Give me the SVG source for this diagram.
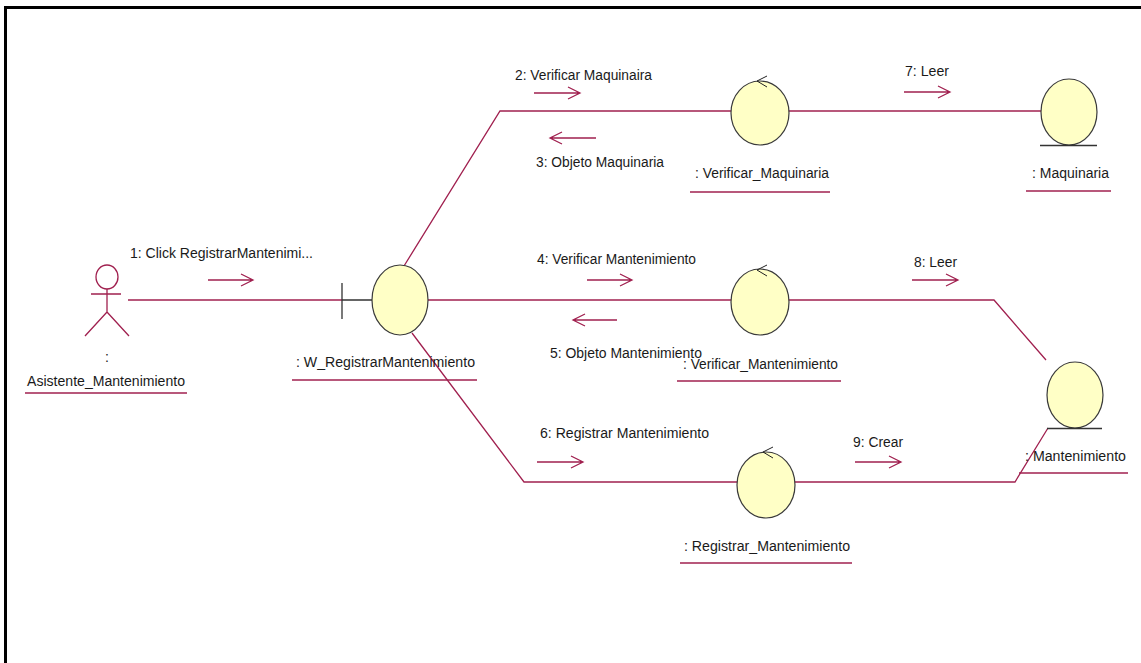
<svg xmlns="http://www.w3.org/2000/svg" width="1141" height="663" viewBox="0 0 1141 663">
<defs>
<style>
.ln{fill:none;stroke:#A0204F;stroke-width:1.3}
.ar{fill:none;stroke:#A0204F;stroke-width:1.3}
.obj{fill:#FFFFC6;stroke:#3A3A3A;stroke-width:1.2}
.ctl{fill:none;stroke:#222;stroke-width:1}
.gr{fill:none;stroke:#333;stroke-width:1.3}
.ul{stroke:#A0204F;stroke-width:1.5}
text{font-family:"Liberation Sans",Arial,sans-serif;font-size:14px;fill:#1a1a1a}
</style>
</defs>
<rect width="1141" height="663" fill="#fff"/>
<path d="M5.5,663 V7.5 H1141" fill="none" stroke="#000" stroke-width="3"/>

<g id="connectors">
<line class="ln" x1="128" y1="300" x2="342" y2="300"/>
<path class="ln" d="M404,266 L500,111 H731"/>
<line class="ln" x1="789" y1="111" x2="1041" y2="111"/>
<line class="ln" x1="428" y1="300" x2="731" y2="300"/>
<path class="ln" d="M789,300 H994 L1046,360"/>
<path class="ln" d="M412,333 L524,482 H737"/>
<path class="ln" d="M795,482 H1015 L1048,428"/>
<!-- message arrows -->
<path class="ar" d="M208,280 H253 M241,274 L253,280 L241,286"/>
<path class="ar" d="M534,93 H580 M568,87 L580,93 L568,99"/>
<path class="ar" d="M596,138 H550 M562,132 L550,138 L562,144"/>
<path class="ar" d="M904,92 H950 M938,86 L950,92 L938,98"/>
<path class="ar" d="M587,280 H632 M620,274 L632,280 L620,286"/>
<path class="ar" d="M617,320 H573 M585,314 L573,320 L585,326"/>
<path class="ar" d="M912,280 H958 M946,274 L958,280 L946,286"/>
<path class="ar" d="M537,462 H583 M571,456 L583,462 L571,468"/>
<path class="ar" d="M855,462 H901 M889,456 L901,462 L889,468"/>
<text x="130" y="258" textLength="183" lengthAdjust="spacingAndGlyphs">1: Click RegistrarMantenimi...</text>
<text x="515" y="80" textLength="137" lengthAdjust="spacingAndGlyphs">2: Verificar Maquinaira</text>
<text x="536" y="167" textLength="128" lengthAdjust="spacingAndGlyphs">3: Objeto Maquinaria</text>
<text x="905" y="76" textLength="44" lengthAdjust="spacingAndGlyphs">7: Leer</text>
<text x="537" y="264" textLength="159" lengthAdjust="spacingAndGlyphs">4: Verificar Mantenimiento</text>
<text x="550" y="358" textLength="152" lengthAdjust="spacingAndGlyphs">5: Objeto Mantenimiento</text>
<text x="914" y="267" textLength="43" lengthAdjust="spacingAndGlyphs">8: Leer</text>
<text x="540" y="438" textLength="169" lengthAdjust="spacingAndGlyphs">6: Registrar Mantenimiento</text>
<text x="853" y="447" textLength="50" lengthAdjust="spacingAndGlyphs">9: Crear</text>
</g>

<g id="actor">
<ellipse class="ln" cx="107" cy="277" rx="11" ry="12"/>
<path class="ln" d="M107,289 V312 M91,294 H121 M85,336 L107,312 L129,336"/>
<text x="107" y="362" text-anchor="middle">:</text>
<text x="27" y="386" textLength="158" lengthAdjust="spacingAndGlyphs">Asistente_Mantenimiento</text>
<line class="ul" x1="25" y1="393" x2="187" y2="393"/>
</g>

<g id="w_registrar">
<path class="gr" d="M342,283 V319 M342,300 H372"/>
<ellipse class="obj" cx="400" cy="300" rx="28" ry="35"/>
<text x="296" y="367" textLength="179" lengthAdjust="spacingAndGlyphs">: W_RegistrarMantenimiento</text>
<line class="ul" x1="292" y1="380" x2="477" y2="380"/>
</g>

<g id="verificar_maquinaria">
<ellipse class="obj" cx="760" cy="113" rx="29" ry="32"/>
<path class="ctl" d="M767,76 L757,81 L767,87"/>
<text x="695" y="178" textLength="134" lengthAdjust="spacingAndGlyphs">: Verificar_Maquinaria</text>
<line class="ul" x1="690" y1="192" x2="830" y2="192"/>
</g>

<g id="maquinaria">
<ellipse class="obj" cx="1069" cy="112" rx="28" ry="33"/>
<line class="gr" x1="1040" y1="145.5" x2="1097" y2="145.5"/>
<text x="1032" y="178" textLength="77" lengthAdjust="spacingAndGlyphs">: Maquinaria</text>
<line class="ul" x1="1026" y1="191" x2="1111" y2="191"/>
</g>

<g id="verificar_mantenimiento">
<ellipse class="obj" cx="760" cy="302" rx="29" ry="33"/>
<path class="ctl" d="M767,265 L757,270 L767,276"/>
<text x="683" y="369" textLength="155" lengthAdjust="spacingAndGlyphs">: Verificar_Mantenimiento</text>
<line class="ul" x1="677" y1="381" x2="841" y2="381"/>
</g>

<g id="mantenimiento">
<ellipse class="obj" cx="1075" cy="395" rx="28" ry="33"/>
<line class="gr" x1="1047" y1="428.5" x2="1102" y2="428.5"/>
<text x="1025" y="461" textLength="101" lengthAdjust="spacingAndGlyphs">: Mantenimiento</text>
<line class="ul" x1="1019" y1="473" x2="1128" y2="473"/>
</g>

<g id="registrar_mantenimiento">
<ellipse class="obj" cx="766" cy="485" rx="29" ry="33"/>
<path class="ctl" d="M773,447 L763,452 L773,458"/>
<text x="684" y="551" textLength="166" lengthAdjust="spacingAndGlyphs">: Registrar_Mantenimiento</text>
<line class="ul" x1="680" y1="563" x2="852" y2="563"/>
</g>
</svg>
